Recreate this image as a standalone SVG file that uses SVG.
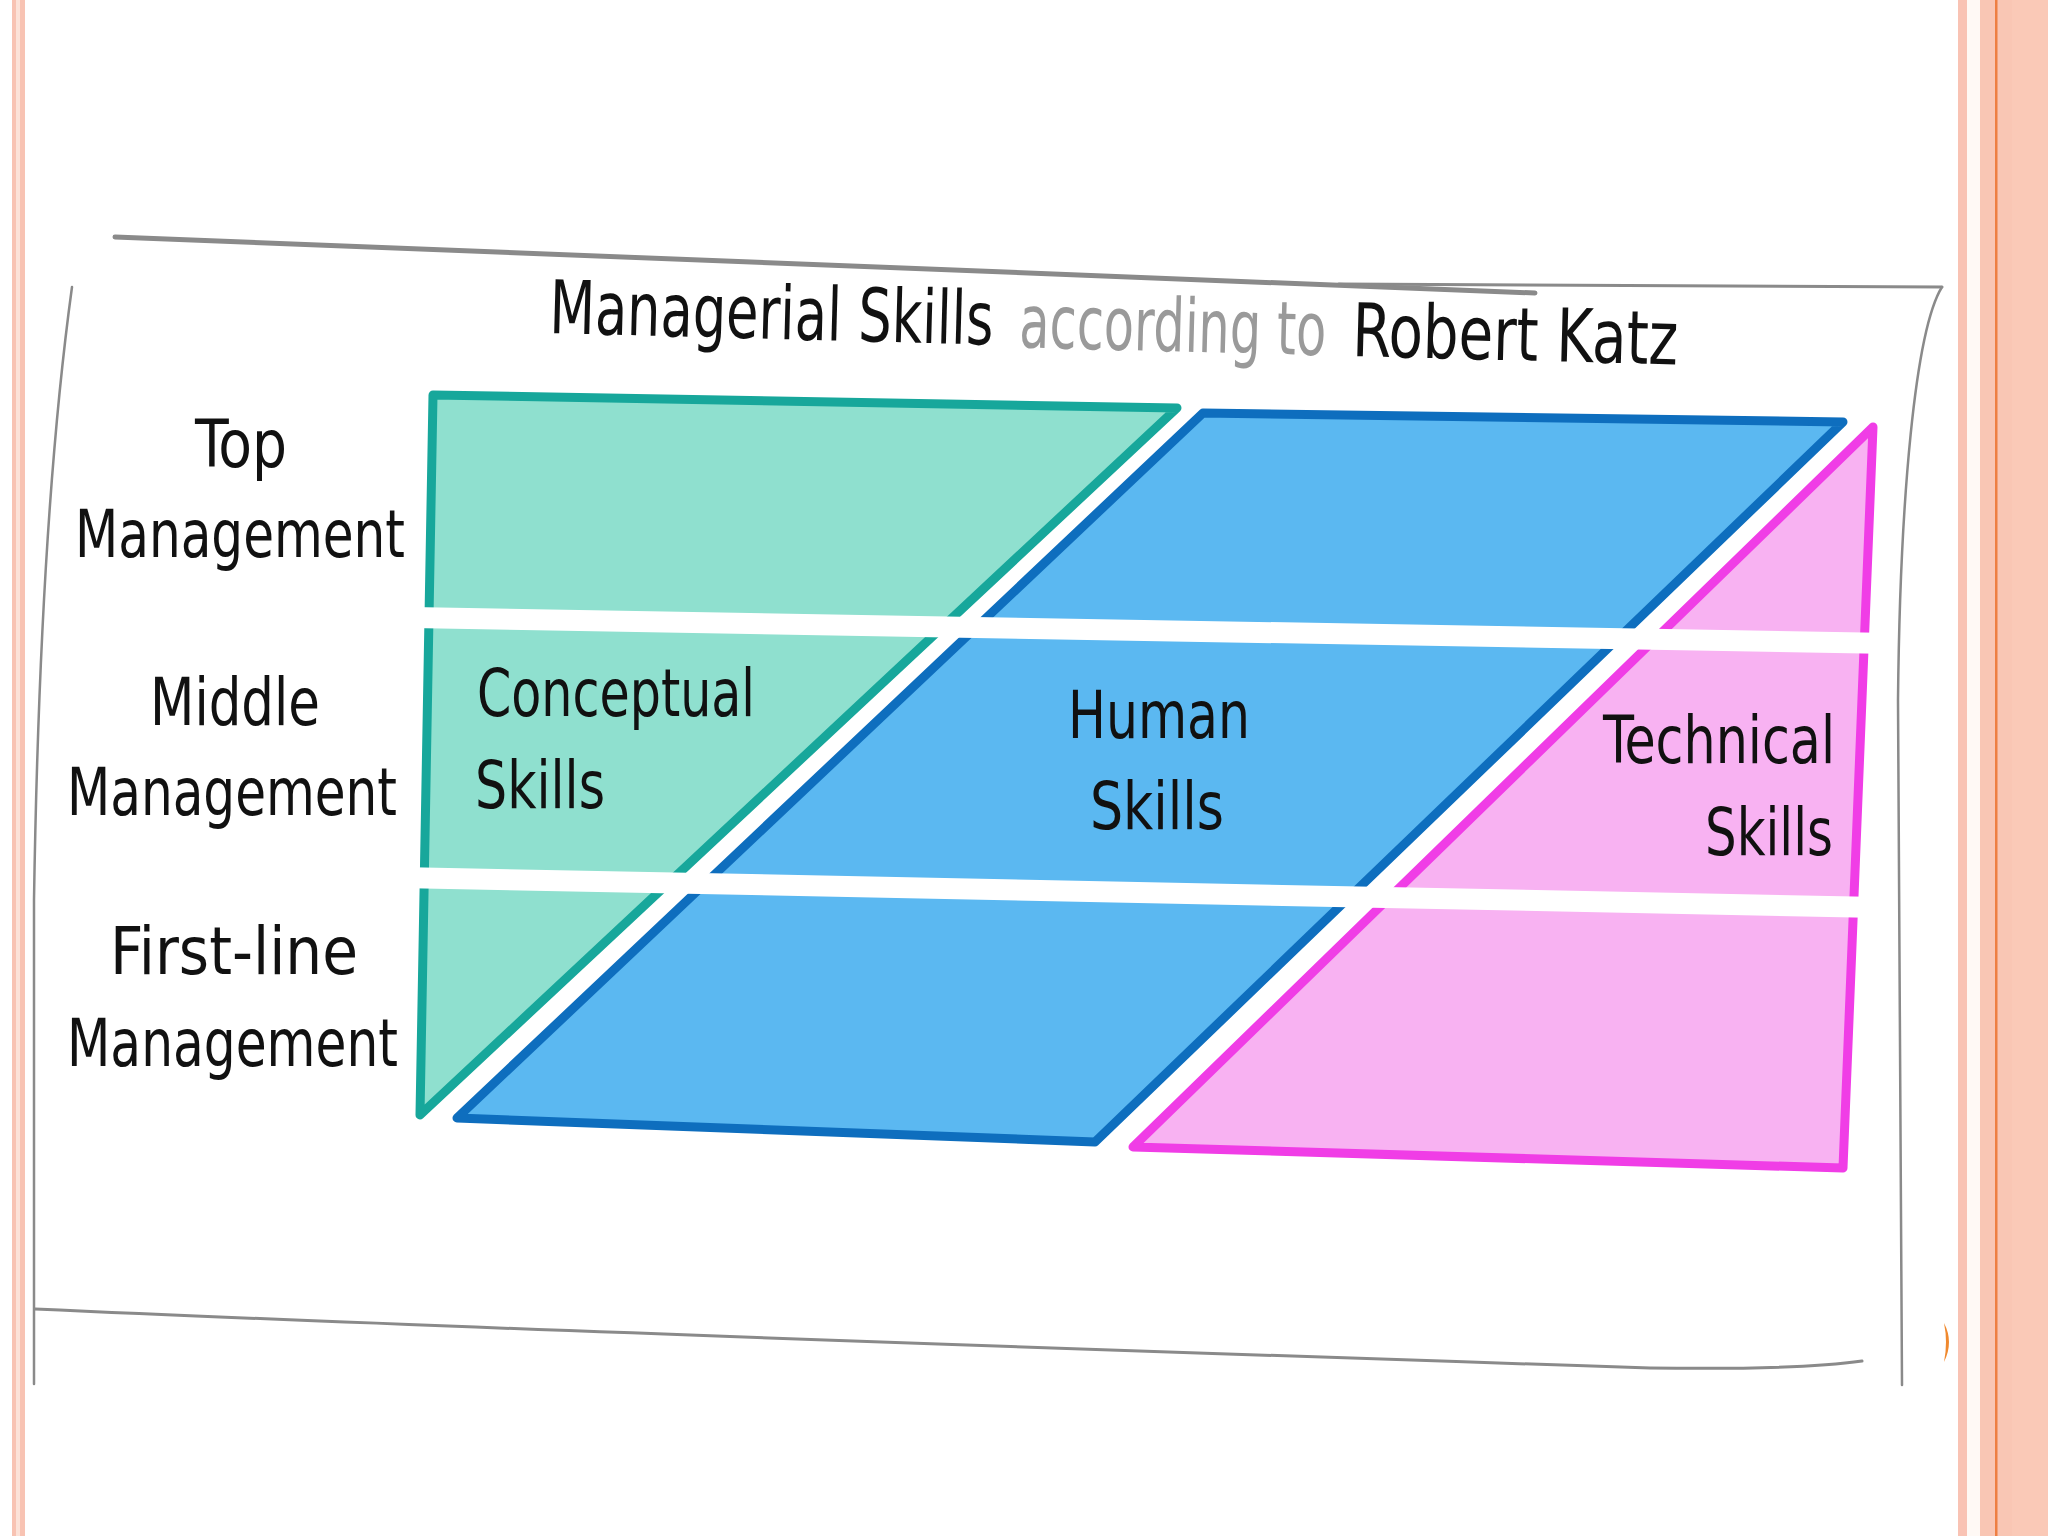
<svg xmlns="http://www.w3.org/2000/svg" width="2048" height="1536" viewBox="0 0 2048 1536">
  <defs>
    <style>
      .lbl { font-family: 'DejaVu Sans Condensed', 'Liberation Sans Narrow', 'Liberation Sans', sans-serif; font-size: 66px; fill: #111111; }
      .ttl { font-family: 'DejaVu Sans Condensed', 'Liberation Sans Narrow', 'Liberation Sans', sans-serif; font-size: 74px; fill: #111111; }
      .ttl-grey { fill: #9a9a9a; }
      .frame { fill: none; stroke: #8a8a8a; stroke-linecap: round; stroke-linejoin: round; }
      .band { stroke: #ffffff; stroke-width: 21; stroke-linecap: butt; }
      .shape { stroke-width: 9; stroke-linejoin: round; stroke-linecap: round; }
    </style>
  </defs>

  <rect x="0" y="0" width="2048" height="1536" fill="#ffffff"/>

  <!-- slide borders -->
  <g id="slide-border">
    <rect x="12" y="0" width="13" height="1536" fill="#F8C3B3"/>
    <rect x="16" y="0" width="4" height="1536" fill="#FCE2D8"/>
    <rect x="1958" y="0" width="9" height="1536" fill="#F9C3B4"/>
    <rect x="1967" y="0" width="13" height="1536" fill="#FFF9F5"/>
    <rect x="1980" y="0" width="68" height="1536" fill="#F9C6B4"/>
    <rect x="2012" y="0" width="36" height="1536" fill="#FAC9B7"/>
    <rect x="1995" y="0" width="2.5" height="1536" fill="#EE7F42"/>
    <path d="M1944,1323 Q1954,1342 1944,1362 Q1948,1342 1944,1323 Z" fill="#F0892E"/>
  </g>

  <!-- hand-drawn frame -->
  <g id="frame">
    <path class="frame" stroke-width="5" d="M115,237 L1535,293"/>
    <path class="frame" stroke-width="3" d="M1339,284 L1942,287"/>
    <path class="frame" stroke-width="2.5" d="M1942,287 C1915,330 1900,500 1898,700 L1902,1385"/>
    <path class="frame" stroke-width="2.5" d="M72,287 Q40,520 34,900 L34,1384"/>
    <path class="frame" stroke-width="3" d="M35,1309 Q520,1331 1650,1368 Q1800,1370 1862,1361"/>
  </g>

  <!-- title -->
  <g id="title" transform="rotate(1.5 549 333)">
    <text class="ttl" x="549" y="333" textLength="444" lengthAdjust="spacingAndGlyphs">Managerial Skills</text>
    <text class="ttl ttl-grey" x="1019" y="335" textLength="307" lengthAdjust="spacingAndGlyphs">according to</text>
    <text class="ttl" x="1352" y="335" textLength="326" lengthAdjust="spacingAndGlyphs">Robert Katz</text>
  </g>

  <!-- row labels -->
  <g id="row-top">
    <text class="lbl" x="195" y="467" textLength="92" lengthAdjust="spacingAndGlyphs">Top</text>
    <text class="lbl" x="75" y="557" textLength="330" lengthAdjust="spacingAndGlyphs">Management</text>
  </g>
  <g id="row-middle">
    <text class="lbl" x="150" y="725" textLength="170" lengthAdjust="spacingAndGlyphs">Middle</text>
    <text class="lbl" x="67" y="815" textLength="330" lengthAdjust="spacingAndGlyphs">Management</text>
  </g>
  <g id="row-first-line">
    <text class="lbl" x="110" y="974" textLength="248" lengthAdjust="spacingAndGlyphs">First-line</text>
    <text class="lbl" x="67" y="1066" textLength="331" lengthAdjust="spacingAndGlyphs">Management</text>
  </g>

  <!-- skill areas -->
  <g id="conceptual">
    <path class="shape" d="M433,395 L1177,408 L420,1115 Z" fill="#8FE0CF" stroke="#17A79B"/>
  </g>
  <g id="human">
    <path class="shape" d="M1203,413 L1843,422 L1095,1142 L457,1118 Z" fill="#5BB8F1" stroke="#0E6EBE"/>
  </g>
  <g id="technical">
    <path class="shape" d="M1873,427 L1843,1168 L1133,1147 Z" fill="#F8B2F2" stroke="#F03DE6"/>
  </g>

  <!-- white separators between management levels -->
  <g id="connectors">
    <line class="band" x1="412" y1="617.6" x2="1892" y2="643.5"/>
    <line class="band" x1="412" y1="877.7" x2="1892" y2="907.8"/>
  </g>

  <!-- skill labels -->
  <g id="conceptual-label">
    <text class="lbl" x="477" y="716" textLength="278" lengthAdjust="spacingAndGlyphs">Conceptual</text>
    <text class="lbl" x="475" y="808" textLength="130" lengthAdjust="spacingAndGlyphs">Skills</text>
  </g>
  <g id="human-label">
    <text class="lbl" x="1068" y="738" textLength="182" lengthAdjust="spacingAndGlyphs">Human</text>
    <text class="lbl" x="1090" y="829" textLength="134" lengthAdjust="spacingAndGlyphs">Skills</text>
  </g>
  <g id="technical-label">
    <text class="lbl" x="1603" y="763" textLength="232" lengthAdjust="spacingAndGlyphs">Technical</text>
    <text class="lbl" x="1705" y="855" textLength="128" lengthAdjust="spacingAndGlyphs">Skills</text>
  </g>
</svg>
